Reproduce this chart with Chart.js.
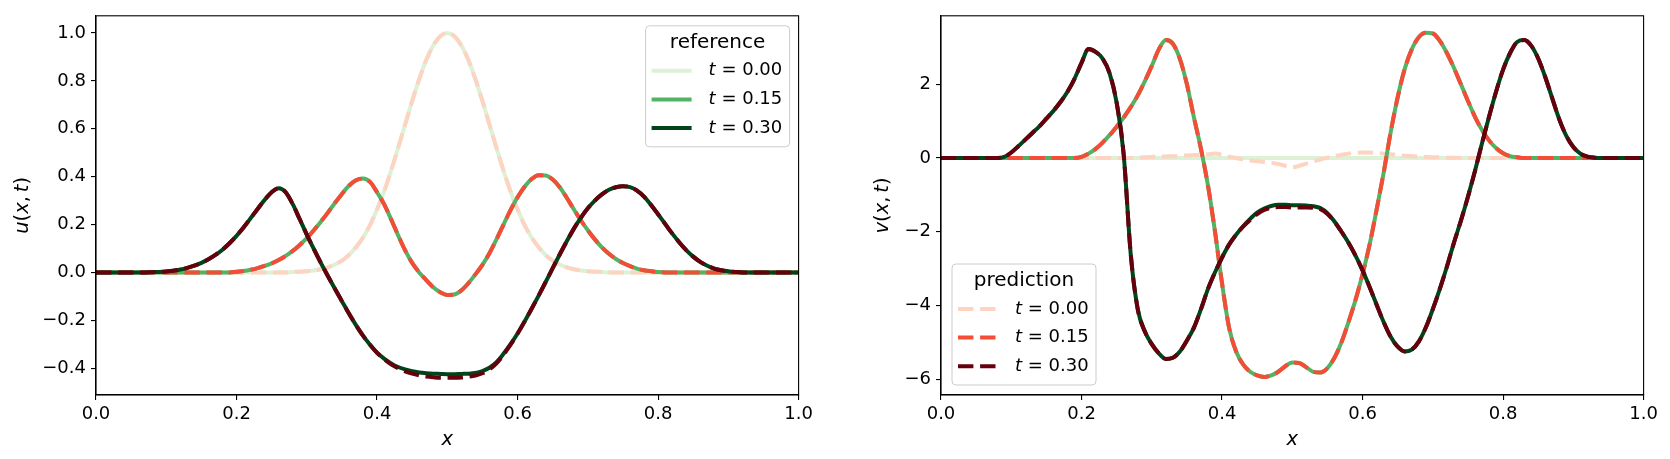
<!DOCTYPE html>
<html>
<head>
<meta charset="utf-8">
<script src="https://cdn.jsdelivr.net/npm/chart.js@4.4.1/dist/chart.umd.min.js"></script>
<style>
  html, body { margin: 0; padding: 0; background: #fff; }
  #wrap { position: relative; width: 1670px; height: 459px; overflow: hidden; }
  canvas { position: absolute; top: 0; }
</style>
</head>
<body>
<div id="wrap">
  <canvas id="uChart" width="835" height="459" style="left:0px"></canvas>
  <canvas id="vChart" width="825" height="459" style="left:845px"></canvas>
</div>
<script>
// sample positions along x
const xs = [
  0.00, 0.01, 0.02, 0.03, 0.04, 0.05, 0.06, 0.07, 0.08, 0.09,
  0.10, 0.11, 0.12, 0.13, 0.14, 0.15, 0.16, 0.17, 0.18, 0.19,
  0.20, 0.21, 0.22, 0.23, 0.24, 0.25, 0.26, 0.27, 0.28, 0.29,
  0.30, 0.31, 0.32, 0.33, 0.34, 0.35, 0.36, 0.37, 0.38, 0.39,
  0.40, 0.41, 0.42, 0.43, 0.44, 0.45, 0.46, 0.47, 0.48, 0.49,
  0.50, 0.51, 0.52, 0.53, 0.54, 0.55, 0.56, 0.57, 0.58, 0.59,
  0.60, 0.61, 0.62, 0.63, 0.64, 0.65, 0.66, 0.67, 0.68, 0.69,
  0.70, 0.71, 0.72, 0.73, 0.74, 0.75, 0.76, 0.77, 0.78, 0.79,
  0.80, 0.81, 0.82, 0.83, 0.84, 0.85, 0.86, 0.87, 0.88, 0.89,
  0.90, 0.91, 0.92, 0.93, 0.94, 0.95, 0.96, 0.97, 0.98, 0.99,
  1.00
];

const timeLabels = ['0.00', '0.15', '0.30'];

// u(x,t) reference
const uRef0 = [
  0, 0, 0, 0, 0, 0, 0, 0, 0, 0,
  0, 0, 0, 0, 0, 0, 0, 0, 0, 0,
  0, 0, 0, 0, 0, 0, 0, 0, 0.002, 0.003,
  0.005, 0.008, 0.013, 0.021, 0.033, 0.049, 0.073, 0.105, 0.146, 0.198,
  0.263, 0.338, 0.425, 0.52, 0.618, 0.716, 0.807, 0.887, 0.948, 0.987,
  1.0, 0.987, 0.948, 0.887, 0.807, 0.716, 0.618, 0.52, 0.425, 0.338,
  0.263, 0.198, 0.146, 0.105, 0.073, 0.049, 0.033, 0.021, 0.013, 0.008,
  0.005, 0.003, 0.002, 0, 0, 0, 0, 0, 0, 0,
  0, 0, 0, 0, 0, 0, 0, 0, 0, 0,
  0, 0, 0, 0, 0, 0, 0, 0, 0, 0,
  0
];
const uRef15 = [
  0, 0, 0, 0, 0, 0, 0, 0, 0, 0,
  0, 0, 0, 0, 0, 0, 0, 0, 0, 0,
  0.003, 0.006, 0.011, 0.018, 0.027, 0.038, 0.052, 0.069, 0.090, 0.115,
  0.143, 0.176, 0.212, 0.250, 0.290, 0.328, 0.362, 0.385, 0.392, 0.378,
  0.335, 0.285, 0.222, 0.155, 0.092, 0.040, 0.000, -0.032, -0.062, -0.083,
  -0.094, -0.092, -0.075, -0.045, -0.008, 0.032, 0.08, 0.138, 0.2, 0.26,
  0.314, 0.358, 0.39, 0.406, 0.405, 0.388, 0.356, 0.312, 0.264, 0.218,
  0.176, 0.138, 0.105, 0.078, 0.056, 0.039, 0.026, 0.016, 0.009, 0.005,
  0.002, 0, 0, 0, 0, 0, 0, 0, 0, 0,
  0, 0, 0, 0, 0, 0, 0, 0, 0, 0,
  0
];
const uRef30 = [
  0, 0, 0, 0, 0, 0, 0, 0, 0.001, 0.002,
  0.004, 0.007, 0.012, 0.019, 0.028, 0.040, 0.055, 0.073, 0.095, 0.122,
  0.153, 0.188, 0.226, 0.265, 0.303, 0.335, 0.352, 0.335, 0.285, 0.222,
  0.158, 0.098, 0.040, -0.015, -0.068, -0.120, -0.172, -0.220, -0.264, -0.302,
  -0.335, -0.360, -0.380, -0.395, -0.405, -0.413, -0.418, -0.421, -0.423, -0.424,
  -0.425, -0.425, -0.424, -0.423, -0.420, -0.412, -0.398, -0.375, -0.34, -0.30,
  -0.255, -0.205, -0.152, -0.097, -0.04, 0.018, 0.075, 0.13, 0.182, 0.228,
  0.268, 0.30, 0.326, 0.345, 0.356, 0.360, 0.356, 0.342, 0.317, 0.282,
  0.243, 0.203, 0.163, 0.126, 0.093, 0.066, 0.044, 0.028, 0.016, 0.009,
  0.005, 0.002, 0, 0, 0, 0, 0, 0, 0, 0,
  0
];

// u(x,t) prediction (t=0 and t=0.15 sit on the reference)
const uPred0 = uRef0;
const uPred15 = uRef15;
const uPred30 = [
  0, 0, 0, 0, 0, 0, 0, 0, 0.001, 0.002,
  0.004, 0.007, 0.012, 0.019, 0.028, 0.040, 0.055, 0.073, 0.095, 0.122,
  0.153, 0.188, 0.226, 0.265, 0.303, 0.335, 0.352, 0.335, 0.285, 0.222,
  0.158, 0.098, 0.040, -0.015, -0.068, -0.120, -0.172, -0.220, -0.264, -0.302,
  -0.336, -0.362, -0.384, -0.400, -0.413, -0.423, -0.430, -0.435, -0.438, -0.440,
  -0.440, -0.440, -0.439, -0.436, -0.431, -0.421, -0.405, -0.380, -0.344, -0.302,
  -0.256, -0.205, -0.152, -0.097, -0.04, 0.018, 0.075, 0.13, 0.182, 0.228,
  0.268, 0.30, 0.326, 0.345, 0.356, 0.360, 0.356, 0.342, 0.317, 0.282,
  0.243, 0.203, 0.163, 0.126, 0.093, 0.066, 0.044, 0.028, 0.016, 0.009,
  0.005, 0.002, 0, 0, 0, 0, 0, 0, 0, 0,
  0
];

// v(x,t) reference
const vRef0 = [
  0, 0, 0, 0, 0, 0, 0, 0, 0, 0,
  0, 0, 0, 0, 0, 0, 0, 0, 0, 0,
  0, 0, 0, 0, 0, 0, 0, 0, 0, 0,
  0, 0, 0, 0, 0, 0, 0, 0, 0, 0,
  0, 0, 0, 0, 0, 0, 0, 0, 0, 0,
  0, 0, 0, 0, 0, 0, 0, 0, 0, 0,
  0, 0, 0, 0, 0, 0, 0, 0, 0, 0,
  0, 0, 0, 0, 0, 0, 0, 0, 0, 0,
  0, 0, 0, 0, 0, 0, 0, 0, 0, 0,
  0, 0, 0, 0, 0, 0, 0, 0, 0, 0,
  0
];
const vRef15 = [
  0, 0, 0, 0, 0, 0, 0, 0, 0, 0,
  0, 0, 0, 0, 0, 0, 0, 0, 0, 0,
  0.03, 0.12, 0.25, 0.42, 0.62, 0.85, 1.1, 1.38, 1.7, 2.08,
  2.5, 2.95, 3.2, 3.1, 2.69, 2.0, 1.1, 0.25, -0.75, -2.0,
  -3.4, -4.6, -5.25, -5.6, -5.8, -5.9, -5.94, -5.9, -5.8, -5.65,
  -5.55, -5.56, -5.68, -5.8, -5.82, -5.7, -5.42, -5.0, -4.45, -3.85,
  -3.15, -2.35, -1.4, -0.4, 0.7, 1.65, 2.42, 2.95, 3.28, 3.4,
  3.38, 3.18, 2.85, 2.45, 2.0, 1.55, 1.12, 0.76, 0.48, 0.27,
  0.13, 0.05, 0.02, 0, 0, 0, 0, 0, 0, 0,
  0, 0, 0, 0, 0, 0, 0, 0, 0, 0,
  0
];
const vRef30 = [
  0, 0, 0, 0, 0, 0, 0, 0, 0, 0.03,
  0.15, 0.32, 0.5, 0.68, 0.86, 1.07, 1.28, 1.52, 1.8, 2.15,
  2.58, 2.96, 2.88, 2.7, 2.3, 1.5, 0.1, -2.6, -4.1, -4.7,
  -5.05, -5.3, -5.45, -5.42, -5.25, -4.95, -4.6, -4.1, -3.55, -3.1,
  -2.7, -2.35, -2.08, -1.85, -1.65, -1.48, -1.37, -1.3, -1.27, -1.27,
  -1.28, -1.28, -1.29, -1.31, -1.36, -1.5, -1.72, -2.0, -2.3, -2.65,
  -3.05, -3.5, -3.98, -4.45, -4.85, -5.12, -5.25, -5.2, -4.98, -4.6,
  -4.1, -3.55, -2.95, -2.3, -1.7, -1.05, -0.35, 0.4, 1.12, 1.8,
  2.4, 2.85, 3.15, 3.2, 3.05, 2.7, 2.2, 1.62, 1.05, 0.6,
  0.3, 0.12, 0.04, 0.01, 0, 0, 0, 0, 0, 0,
  0
];

// v(x,t) prediction
const vPred0 = [
  0, 0, 0, 0, 0, 0, 0, 0, 0, 0,
  0, 0, 0, 0, 0, 0, 0, 0, 0, 0,
  0, 0, 0, 0, 0, 0, 0, 0, 0.01, 0.02,
  0.03, 0.04, 0.045, 0.05, 0.06, 0.07, 0.08, 0.09, 0.10, 0.12,
  0.09, 0.04, 0.0, -0.04, -0.07, -0.09, -0.11, -0.13, -0.16, -0.21,
  -0.25, -0.21, -0.15, -0.09, -0.04, 0.01, 0.05, 0.09, 0.12, 0.14,
  0.15, 0.15, 0.14, 0.12, 0.10, 0.08, 0.06, 0.05, 0.04, 0.03,
  0.02, 0.02, 0.01, 0.01, 0, 0, 0, 0, 0, 0,
  0, 0, 0, 0, 0, 0, 0, 0, 0, 0,
  0, 0, 0, 0, 0, 0, 0, 0, 0, 0,
  0
];
const vPred15 = vRef15;
const vPred30 = [
  0, 0, 0, 0, 0, 0, 0, 0, 0, 0.03,
  0.15, 0.32, 0.5, 0.68, 0.86, 1.07, 1.28, 1.52, 1.8, 2.15,
  2.58, 2.96, 2.88, 2.7, 2.3, 1.5, 0.1, -2.6, -4.1, -4.7,
  -5.05, -5.3, -5.45, -5.42, -5.25, -4.95, -4.6, -4.1, -3.55, -3.1,
  -2.7, -2.35, -2.08, -1.86, -1.68, -1.52, -1.41, -1.35, -1.33, -1.33,
  -1.34, -1.34, -1.34, -1.35, -1.39, -1.52, -1.73, -2.0, -2.3, -2.65,
  -3.05, -3.5, -3.98, -4.45, -4.85, -5.12, -5.25, -5.2, -4.98, -4.6,
  -4.1, -3.55, -2.95, -2.3, -1.7, -1.05, -0.35, 0.4, 1.12, 1.8,
  2.4, 2.85, 3.15, 3.2, 3.05, 2.7, 2.2, 1.62, 1.05, 0.6,
  0.3, 0.12, 0.04, 0.01, 0, 0, 0, 0, 0, 0,
  0
];

// tick labels
const xTicks = [0, 0.2, 0.4, 0.6, 0.8, 1.0];
const uTicks = [-0.4, -0.2, 0, 0.2, 0.4, 0.6, 0.8, 1.0];
const vTicks = [-6, -4, -2, 0, 2];

const refColors = ['#dcf1d6', '#52b365', '#00441b'];
const predColors = ['#fdd3c1', '#f34d37', '#67000d'];
const DASH = [15.4, 6.7];
const FONT = 'DejaVu Sans';

function minus(s) { return s.replace('-', '\u2212'); }
function series(ys) { return xs.map((x, i) => ({ x: x, y: ys[i] })); }

function fontStr(size, italic) { return (italic ? 'italic ' : '') + size + 'px "' + FONT + '"'; }

// draw text made of upright / italic pieces (mathtext look)
function drawRich(ctx, parts, x, y, size, align) {
    let w = 0;
    parts.forEach(p => { ctx.font = fontStr(size, p[1]); w += ctx.measureText(p[0]).width; });
    let cx = align === 'center' ? x - w / 2 : x;
    ctx.textAlign = 'left';
    ctx.textBaseline = 'middle';
    ctx.fillStyle = '#000';
    parts.forEach(p => {
        ctx.font = fontStr(size, p[1]);
        ctx.fillText(p[0], cx, y);
        cx += ctx.measureText(p[0]).width;
    });
}

function buildDatasets(refs, preds) {
    const sets = [];
    for (let k = 0; k < 3; k++) {
        sets.push({ data: series(refs[k]), borderColor: refColors[k], order: 6 - 2 * k });
        sets.push({ data: series(preds[k]), borderColor: predColors[k], borderDash: DASH, order: 5 - 2 * k });
    }
    return sets;
}

// frame, axis titles and legend inside the axes
const decor = {
    id: 'decor',
    afterDraw(chart, args, opts) {
        const ctx = chart.ctx;
        const a = chart.chartArea;
        ctx.save();
        ctx.strokeStyle = '#000';
        ctx.lineWidth = 1.1;
        ctx.strokeRect(a.left, a.top, a.right - a.left, a.bottom - a.top);

        // axis titles
        drawRich(ctx, [['x', true]], (a.left + a.right) / 2, a.bottom + 45, 19.5, 'center');
        ctx.save();
        ctx.translate(a.left - opts.yTitleOffset, (a.top + a.bottom) / 2);
        ctx.rotate(-Math.PI / 2);
        drawRich(ctx, opts.yTitle, 0, 0, 19.5, 'center');
        ctx.restore();

        // legend
        const w = 144, h = 121;
        let bx, by;
        if (opts.corner === 'upper right') { bx = a.right - 9 - w; by = a.top + 10; }
        else { bx = a.left + 11; by = a.bottom - 10 - h; }
        ctx.beginPath();
        ctx.roundRect(bx, by, w, h, 4);
        ctx.fillStyle = 'rgba(255,255,255,0.8)';
        ctx.fill();
        ctx.strokeStyle = '#cccccc';
        ctx.lineWidth = 1;
        ctx.stroke();
        drawRich(ctx, [[opts.title, false]], bx + w / 2, by + 17, 20, 'center');
        for (let k = 0; k < 3; k++) {
            const ry = by + 45 + 28.6 * k;
            ctx.beginPath();
            ctx.setLineDash(opts.dashed ? DASH : []);
            ctx.lineCap = 'butt';
            ctx.strokeStyle = opts.colors[k];
            ctx.lineWidth = 4;
            ctx.moveTo(bx + 6, ry);
            ctx.lineTo(bx + 46, ry);
            ctx.stroke();
            ctx.setLineDash([]);
            drawRich(ctx, [['t', true], [' = ' + timeLabels[k], false]], bx + 63, ry, 18, 'left');
        }
        ctx.restore();
    }
};

function makeOptions(yMin, yMax, yTickList, yFmt, padRight, decorOpts) {
    const tickFont = { family: FONT, size: 18 };
    return {
        responsive: false,
        animation: false,
        devicePixelRatio: 1,
        layout: { padding: { left: 0, right: padRight, top: 10, bottom: 0 } },
        elements: {
            point: { radius: 0 },
            line: { borderWidth: 4, fill: false, cubicInterpolationMode: 'monotone', borderCapStyle: 'butt', borderJoinStyle: 'round' }
        },
        plugins: {
            legend: { display: false },
            tooltip: { enabled: false },
            decor: decorOpts
        },
        scales: {
            x: {
                type: 'linear',
                min: 0, max: 1,
                afterBuildTicks: s => { s.ticks = xTicks.map(v => ({ value: v })); },
                afterFit: s => { s.height = 64; },
                ticks: { font: tickFont, color: '#000', padding: 4, maxRotation: 0, callback: v => v.toFixed(1) },
                grid: { display: true, drawOnChartArea: false, drawTicks: true, tickLength: 5, color: '#000', lineWidth: 1.1 },
                border: { display: true, color: '#000', width: 1.1 }
            },
            y: {
                type: 'linear',
                min: yMin, max: yMax,
                afterBuildTicks: s => { s.ticks = yTickList.map(v => ({ value: v })); },
                afterFit: s => { s.width = 96; },
                ticks: { font: tickFont, color: '#000', padding: 5, callback: yFmt },
                grid: { display: true, drawOnChartArea: false, drawTicks: true, tickLength: 5, color: '#000', lineWidth: 1.1 },
                border: { display: true, color: '#000', width: 1.1 }
            }
        }
    };
}

document.addEventListener('DOMContentLoaded', function() {
    // u(x,t) panel
    new Chart(document.getElementById('uChart').getContext('2d'), {
        type: 'line',
        data: { datasets: buildDatasets([uRef0, uRef15, uRef30], [uPred0, uPred15, uPred30]) },
        options: makeOptions(-0.512, 1.072, uTicks, v => minus(v.toFixed(1)), 36.4, {
            yTitle: [['u', true], ['(', false], ['x', true], [',\u2009', false], ['t', true], [')', false]],
            yTitleOffset: 73,
            corner: 'upper right', title: 'reference', colors: refColors, dashed: false
        }),
        plugins: [decor]
    });

    // v(x,t) panel
    new Chart(document.getElementById('vChart').getContext('2d'), {
        type: 'line',
        data: { datasets: buildDatasets([vRef0, vRef15, vRef30], [vPred0, vPred15, vPred30]) },
        options: makeOptions(-6.43, 3.86, vTicks, v => minus(String(v)), 26.4, {
            yTitle: [['v', true], ['(', false], ['x', true], [',\u2009', false], ['t', true], [')', false]],
            yTitleOffset: 58,
            corner: 'lower left', title: 'prediction', colors: predColors, dashed: true
        }),
        plugins: [decor]
    });
});
</script>
</body>
</html>
